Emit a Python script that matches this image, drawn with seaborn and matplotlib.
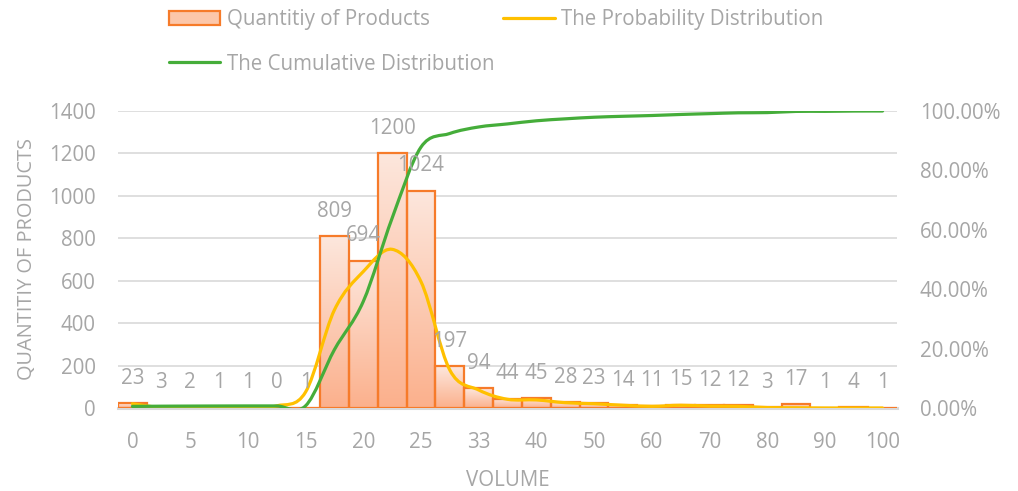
import numpy as np
import pandas as pd
import matplotlib
matplotlib.use("Agg")
import matplotlib.pyplot as plt
import seaborn as sns
from matplotlib.path import Path
from matplotlib.patches import PathPatch, Rectangle
from matplotlib.lines import Line2D
from matplotlib.colors import LinearSegmentedColormap

# ---- data ----
quantities = [23, 3, 2, 1, 1, 0, 1, 809, 694, 1200, 1024, 197, 94, 44, 45,
              28, 23, 14, 11, 15, 12, 12, 3, 17, 1, 4, 1]
probability = [20, 2, 1, 1, 2, 10, 75, 462, 643, 748, 596, 179, 85, 41, 38,
               25, 20, 13, 8, 13, 9, 8, 2, 1, 0, 0, 0]
cumulative_pct = [0.54, 0.61, 0.65, 0.68, 0.70, 0.70, 0.72, 19.63, 35.85, 63.89,
                  87.82, 92.43, 94.62, 95.65, 96.70, 97.36, 97.90, 98.22, 98.48,
                  98.83, 99.11, 99.39, 99.46, 99.86, 99.88, 99.98, 100.0]
volume_ticks = ['0', '5', '10', '15', '20', '25', '33', '40', '50', '60',
                '70', '80', '90', '100']
left_ticks = [0, 200, 400, 600, 800, 1000, 1200, 1400]
right_ticks = [0, 20, 40, 60, 80, 100]

GRAY = '#a6a6a6'
ORANGE = '#f67b2a'
YELLOW = '#ffc000'
GREEN = '#45ad3a'
FONT = 'Open Sans'
FS = 14.8

sns.set_style('white')
plt.rcParams['font.family'] = [FONT, 'DejaVu Sans']

df = pd.DataFrame({'bin': list(range(len(quantities))), 'qty': quantities})

fig = plt.figure(figsize=(10.18, 4.91), dpi=100)
ax = fig.add_axes([118 / 1018, 1 - 408 / 491, 779 / 1018, 297 / 491])

sns.barplot(data=df, x='bin', y='qty', ax=ax, width=1.0, facecolor='none',
            edgecolor=ORANGE, linewidth=1.6, zorder=2, errorbar=None)

# gradient fill per bar
cmap = LinearSegmentedColormap.from_list('g', ['#fbb08c', '#fde7dd'])
grad = np.linspace(0, 1, 256).reshape(-1, 1)
for p in list(ax.patches):
    x, y = p.get_x(), p.get_y()
    w, h = p.get_width(), p.get_height()
    if h <= 0:
        continue
    im = ax.imshow(grad, extent=[x, x + w, y, y + h], origin='lower',
                   cmap=cmap, aspect='auto', zorder=1.5, interpolation='bilinear')
    im.set_clip_path(p)


def smooth_path(xs, ys):
    pts = np.column_stack([xs, ys]).astype(float)
    n = len(pts)
    verts = [pts[0]]
    codes = [Path.MOVETO]
    for i in range(n - 1):
        p0 = pts[i - 1] if i > 0 else pts[i]
        p1 = pts[i]
        p2 = pts[i + 1]
        p3 = pts[i + 2] if i + 2 < n else pts[i + 1]
        c1 = p1 + (p2 - p0) / 6.0
        c2 = p2 - (p3 - p1) / 6.0
        verts += [c1, c2, p2]
        codes += [Path.CURVE4] * 3
    return Path(verts, codes)


xs = np.arange(len(quantities))
ax.add_patch(PathPatch(smooth_path(xs, probability), fill=False,
                       edgecolor=YELLOW, lw=2.3, zorder=3, capstyle='round'))

ax.set_xlim(-0.5, len(quantities) - 0.5)
ax.set_ylim(0, 1400)
ax.set_yticks(left_ticks)
ax.set_yticklabels([str(t) for t in left_ticks])
ax.set_xticks(xs[::2])
ax.set_xticklabels(volume_ticks)
ax.grid(axis='y', color='#d9d9d9', lw=1.2)
ax.grid(axis='x', visible=False)
ax.set_axisbelow(True)
for s in ['left', 'right', 'top']:
    ax.spines[s].set_visible(False)
ax.spines['bottom'].set_color('#d9d9d9')
ax.spines['bottom'].set_linewidth(2.2)
ax.spines['bottom'].set_zorder(1.8)
ax.tick_params(axis='both', length=0, labelsize=FS, labelcolor=GRAY)
ax.tick_params(axis='x', pad=17)
ax.tick_params(axis='y', pad=16)
ax.set_xlabel('VOLUME', fontsize=FS, color=GRAY)
ax.set_ylabel('QUANTITIY OF PRODUCTS', fontsize=14.4, color=GRAY)
ax.xaxis.set_label_coords(0.5, -0.21)
ax.yaxis.set_label_coords(-0.104, 0.5)

# secondary axis: cumulative distribution
ax2 = ax.twinx()
ax2.add_patch(PathPatch(smooth_path(xs, cumulative_pct), fill=False,
                        edgecolor=GREEN, lw=2.3, zorder=3, capstyle='round'))
ax2.set_ylim(0, 100)
ax2.set_yticks(right_ticks)
ax2.set_yticklabels(['%.2f%%' % t for t in right_ticks])
ax2.tick_params(axis='y', length=0, labelsize=FS, labelcolor=GRAY, pad=16.5)
for s in ['left', 'right', 'top', 'bottom']:
    ax2.spines[s].set_visible(False)
ax2.grid(False)

# data labels on top of everything
for i, q in enumerate(quantities):
    ax2.annotate(str(q), xy=(i, q), xycoords=ax.transData, xytext=(0, 18),
                 textcoords='offset points', ha='center', va='center',
                 fontsize=FS, color=GRAY, zorder=5)

handles = [Rectangle((0, 0), 1, 1, facecolor='#fcc7aa', edgecolor=ORANGE, lw=1.6),
           Line2D([0], [0], color=GREEN, lw=2.3),
           Line2D([0], [0], color=YELLOW, lw=2.3)]
labels = ['Quantitiy of Products', 'The Cumulative Distribution',
          'The Probability Distribution']
leg = fig.legend(handles, labels, ncol=2, loc='upper left',
                 bbox_to_anchor=(169 / 1018, 1 - 9 / 491), frameon=False,
                 fontsize=FS, handlelength=2.5, handletextpad=0.3,
                 columnspacing=0.45, labelspacing=1.15, borderpad=0,
                 borderaxespad=0)
for t in leg.get_texts():
    t.set_color(GRAY)

fig.savefig('out.png', dpi=100)
